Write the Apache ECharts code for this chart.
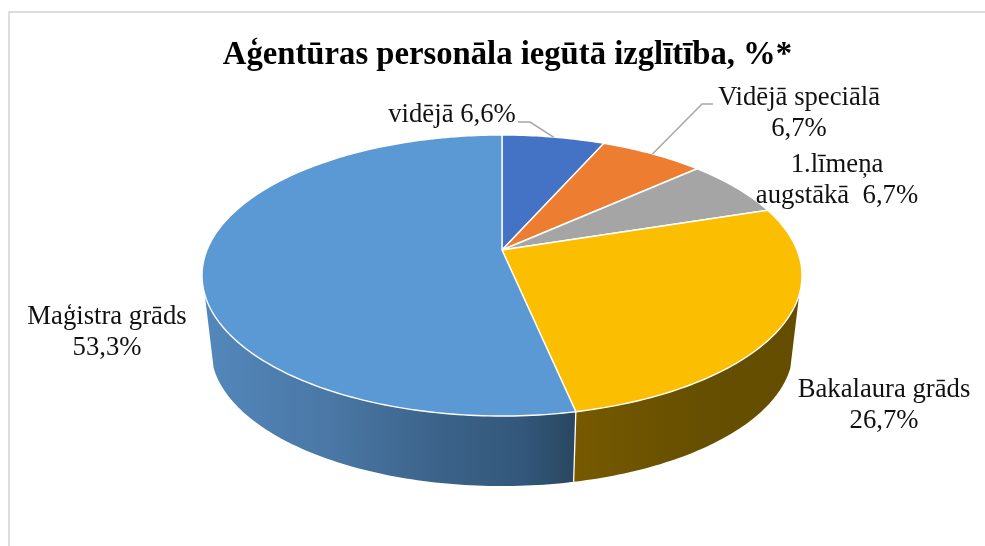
<!DOCTYPE html>
<html><head><meta charset="utf-8">
<style>html,body{margin:0;padding:0;background:#fff}#c{width:985px;height:546px}</style>
<script src="https://cdn.jsdelivr.net/npm/echarts@6/dist/echarts.min.js"></script>
</head><body><div id="c"></div>
<script>
const titleText = 'Aģentūras personāla iegūtā izglītība, %*';
const categories = ['vidējā', 'Vidējā speciālā', '1.līmeņa augstākā', 'Bakalaura grāds', 'Maģistra grāds'];
const values = [6.6, 6.7, 6.7, 26.7, 53.3];
const labelTexts = ['vidējā 6,6%', 'Vidējā speciālā\n6,7%', '1.līmeņa\naugstākā  6,7%', 'Bakalaura grāds\n26,7%', 'Maģistra grāds\n53,3%'];
const faceColors = ['#4472C4', '#ED7D31', '#A5A5A5', '#FBBE00', '#5B99D5'];

// layout of the tilted pie
const CX = 502, CY = 250, RX = 295, RY = 135.9, PERSP = 0.1815;
const DEPTH_SCALE = 0.97, DEPTH_OFFSET = 82.5;
const FRONT_FROM = 108, FRONT_TO = 252;
const labelPos = [[452, 115], [799, 113], [837, 180], [884, 405], [107, 332]];
const leaderElbow = [[[518, 122], [530, 122]], [[713, 104], [702, 104]], null, null, null];
const wallStops = {
  3: [[578, '#765900'], [700, '#664F00'], [800, '#644D00']],
  4: [[205, '#5387BB'], [330, '#4A77A5'], [450, '#3A6187'], [520, '#33587B'], [578, '#294660']]
};

const total = values.reduce((a, b) => a + b, 0);
const spans = [];
values.reduce((acc, v) => { spans.push([acc / total * 360, (acc + v) / total * 360]); return acc + v; }, 0);

function rim(deg) {
  const t = deg * Math.PI / 180, u = Math.sin(t), v = Math.cos(t), w = 1 + PERSP * v;
  return [CX + RX * u / w, CY - RY * v / w];
}
function lower(p) { return [CX + DEPTH_SCALE * (p[0] - CX), DEPTH_SCALE * p[1] + DEPTH_OFFSET]; }
function arc(a, b) {
  const n = Math.max(2, Math.ceil(Math.abs(b - a))), pts = [];
  for (let i = 0; i <= n; i++) pts.push(rim(a + (b - a) * i / n));
  return pts;
}

const rows = values.map((v, i) => ({ name: categories[i], value: [v, spans[i][0], spans[i][1], i] }));

function renderWall(params, api) {
  const i = api.value(3), a = Math.max(api.value(1), FRONT_FROM), b = Math.min(api.value(2), FRONT_TO);
  if (a >= b || !wallStops[i]) return { type: 'group', children: [] };
  const top = arc(a, b), pts = top.concat(top.map(lower).reverse());
  const s = wallStops[i], x0 = s[0][0], x1 = s[s.length - 1][0];
  const fill = new echarts.graphic.LinearGradient(x0, 0, x1, 0,
    s.map(d => ({ offset: (d[0] - x0) / (x1 - x0), color: d[1] })), true);
  return { type: 'polygon', shape: { points: pts }, style: { fill: fill, stroke: null } };
}
function renderSeam(params, api) {
  const i = api.value(3), b = api.value(2);
  if (b < FRONT_FROM || b > FRONT_TO) return { type: 'group', children: [] };
  const p = rim(b);
  return { type: 'line', shape: { x1: p[0], y1: p[1], x2: lower(p)[0], y2: lower(p)[1] },
    style: { stroke: '#fff', lineWidth: 1.3 } };
}
function renderFace(params, api) {
  const i = api.value(3), pts = [[CX, CY]].concat(arc(api.value(1), api.value(2)));
  return { type: 'polygon', shape: { points: pts },
    style: { fill: faceColors[i], stroke: '#fff', lineWidth: 1.4, lineJoin: 'round' } };
}
function renderLabel(params, api) {
  const i = api.value(3), kids = [];
  if (leaderElbow[i]) {
    const end = rim((api.value(1) + api.value(2)) / 2);
    kids.push({ type: 'polyline', shape: { points: leaderElbow[i].concat([end]) },
      style: { stroke: '#A6A6A6', lineWidth: 1.5, fill: null } });
  }
  kids.push({ type: 'text', x: labelPos[i][0], y: labelPos[i][1],
    style: { text: labelTexts[i], font: '26.7px "Liberation Serif"', lineHeight: 31,
      fill: '#111', align: 'center', verticalAlign: 'middle' } });
  return { type: 'group', children: kids };
}
const base = { type: 'custom', coordinateSystem: 'none', data: rows, animation: false, silent: true };

const chart = echarts.init(document.getElementById('c'), null, { renderer: 'canvas' });
chart.setOption({
  animation: false,
  backgroundColor: '#fff',
  title: { text: titleText, left: 502.5, top: 34, textAlign: 'center',
    textStyle: { fontFamily: 'Liberation Serif', fontWeight: 'bold', fontSize: 32.7, color: '#000' } },
  graphic: [{ type: 'rect', z: -1, shape: { x: 9, y: 12, width: 1000, height: 600 },
    style: { fill: '#fff', stroke: '#DDDDDD', lineWidth: 2 } }],
  series: [
    Object.assign({}, base, { name: 'walls', z: 2, renderItem: renderWall }),
    Object.assign({}, base, { name: 'seams', z: 3, renderItem: renderSeam }),
    Object.assign({}, base, { name: 'faces', z: 4, renderItem: renderFace }),
    Object.assign({}, base, { name: 'labels', z: 5, renderItem: renderLabel })
  ]
});
</script></body></html>
